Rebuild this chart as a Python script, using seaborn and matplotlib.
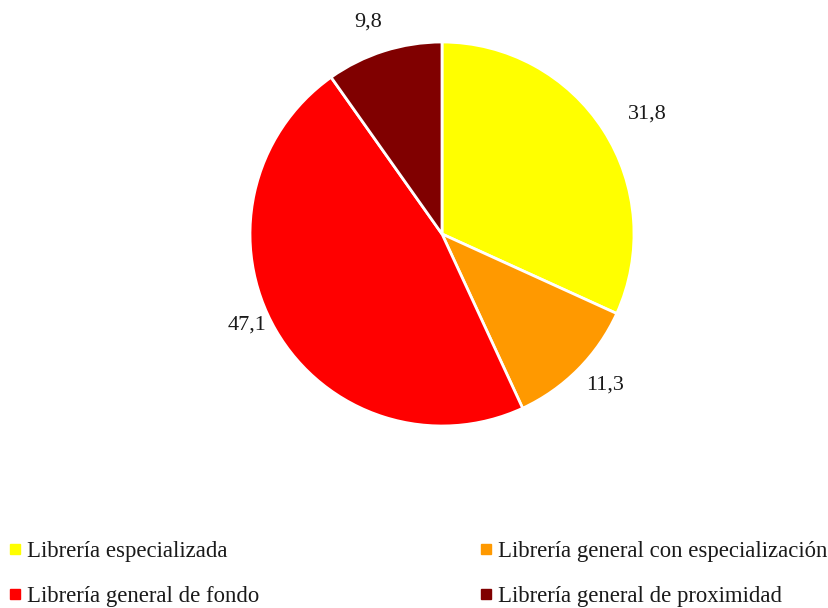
import matplotlib
matplotlib.use("Agg")
import numpy as np
import matplotlib.pyplot as plt
from matplotlib.lines import Line2D
import seaborn as sns

# data
categorias = ["Librería especializada", "Librería general con especialización",
              "Librería general de fondo", "Librería general de proximidad"]
valores = [31.8, 11.3, 47.1, 9.8]
colores = ["#FFFF00", "#FF9900", "#FF0000", "#800000"]
# distance of each value label from centre (in radii) and angular nudge (deg)
dist_etiqueta = [1.24, 1.16, 1.12, 1.17]
giro_etiqueta = [-2.5, 2, -5, 1.5]

sns.set_theme(style="white")
plt.rcParams['font.family'] = ['Liberation Serif', 'DejaVu Serif']

fig = plt.figure(figsize=(8.29, 6.08), dpi=100)
ax = fig.add_axes([250 / 829, (608 - 426) / 608, 384 / 829, 384 / 608])

wedges, _, autotexts = ax.pie(
    valores, colors=sns.color_palette(colores), startangle=90, counterclock=False,
    autopct=lambda p: f"{p:.1f}".replace(".", ","), pctdistance=1.2,
    wedgeprops=dict(edgecolor="white", linewidth=2),
    textprops=dict(fontsize=16, color="#1a1a1a"))
for w, t, d, g in zip(wedges, autotexts, dist_etiqueta, giro_etiqueta):
    ang = np.deg2rad((w.theta1 + w.theta2) / 2 + g)
    t.set_position((d * np.cos(ang), d * np.sin(ang)))
ax.set_xlim(-1, 1)
ax.set_ylim(-1, 1)
ax.set_aspect("equal")

def handle(c):
    return Line2D([], [], marker="s", linestyle="", markersize=7,
                  markerfacecolor=c, markeredgecolor=c)

kw = dict(frameon=False, fontsize=16.4, handlelength=0.5, handletextpad=0.3,
          labelspacing=1.05, borderaxespad=0, borderpad=0)
leg1 = fig.legend([handle(colores[0]), handle(colores[2])], [categorias[0], categorias[2]],
                  loc="upper left", bbox_to_anchor=(9 / 829, 1 - 541 / 608), **kw)
leg2 = fig.legend([handle(colores[1]), handle(colores[3])], [categorias[1], categorias[3]],
                  loc="upper left", bbox_to_anchor=(480 / 829, 1 - 541 / 608), **kw)
for leg in (leg1, leg2):
    for t in leg.get_texts():
        t.set_color("#1a1a1a")

fig.savefig("out.png", dpi=100)
